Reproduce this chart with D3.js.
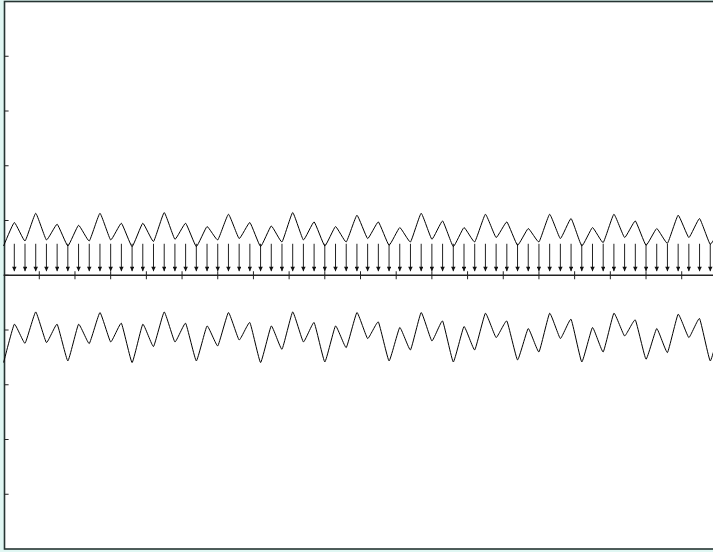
<!DOCTYPE html>
<html><head><meta charset="utf-8">
<script src="https://cdn.jsdelivr.net/npm/d3@7"></script>
<style>html,body{margin:0;padding:0;background:#e0f7f3;overflow:hidden}</style>
</head><body>
<svg id="c" width="713" height="552"></svg>
<script>
// sample index k -> x = k*0.3
const step = 0.3;
const upperValues = [0.535,0.963,0.626,1.132,0.645,0.932,0.535,0.913,0.626,1.132,0.645,0.950,0.524,0.950,0.616,1.145,0.658,0.950,0.524,0.889,0.645,1.114,0.670,0.963,0.524,0.900,0.608,1.145,0.645,0.974,0.535,0.889,0.608,1.096,0.670,0.974,0.548,0.871,0.608,1.132,0.658,0.992,0.524,0.871,0.608,1.114,0.689,0.974,0.548,0.853,0.608,1.114,0.670,1.036,0.535,0.871,0.597,1.114,0.689,0.992,0.548,0.853,0.584,1.096,0.689,1.036,0.566,0.877];
const lowerValues = [-1.595,-0.895,-1.242,-0.670,-1.229,-0.895,-1.565,-0.895,-1.247,-0.681,-1.218,-0.877,-1.595,-0.895,-1.302,-0.670,-1.218,-0.877,-1.565,-0.926,-1.291,-0.681,-1.182,-0.864,-1.595,-0.926,-1.352,-0.670,-1.218,-0.864,-1.584,-0.926,-1.321,-0.681,-1.156,-0.853,-1.565,-0.955,-1.364,-0.681,-1.200,-0.835,-1.584,-0.937,-1.364,-0.694,-1.138,-0.835,-1.547,-0.974,-1.401,-0.694,-1.156,-0.804,-1.584,-0.955,-1.401,-0.694,-1.109,-0.816,-1.534,-0.974,-1.412,-0.712,-1.138,-0.791,-1.565,-0.895];
const arrowTop = 0.575, arrowBottom = 0.075;
const arrowCount = 66;
const xTicks = d3.range(1, 20);
const yTicks = d3.range(-4, 5);

const svg = d3.select('#c');
const x = d3.scaleLinear().domain([0, 20]).range([3.6, 717.4]);
const y = d3.scaleLinear().domain([-5, 5]).range([549, 1.5]);

svg.append('defs').append('marker')
  .attr('id','ah').attr('viewBox','0 0 10 10').attr('refX',10).attr('refY',5)
  .attr('markerUnits','userSpaceOnUse').attr('markerWidth',7).attr('markerHeight',4.5)
  .attr('orient','auto')
  .append('path').attr('d','M0,0 L10,5 L0,10 z').attr('fill','#111');

svg.append('rect').attr('x', x(0)+0.9).attr('y', y(5)).attr('width', 720).attr('height', y(-5)-y(5))
  .attr('fill','#fff').attr('stroke','#263533').attr('stroke-width',1.6);

// y ticks
svg.append('g').selectAll('line').data(yTicks).join('line')
  .attr('x1', x(0)+0.9).attr('x2', x(0)+5).attr('y1', d=>y(d)).attr('y2', d=>y(d))
  .attr('stroke','#222').attr('stroke-width',1);

// x axis
svg.append('line').attr('x1', x(0)).attr('x2', 713).attr('y1', y(0)).attr('y2', y(0))
  .attr('stroke','#222').attr('stroke-width',1.3);
svg.append('g').selectAll('line').data(xTicks).join('line')
  .attr('x1', d=>x(d)).attr('x2', d=>x(d)).attr('y1', y(0)-4).attr('y2', y(0)+4)
  .attr('stroke','#222').attr('stroke-width',1);

// arrows
svg.append('g').selectAll('line').data(d3.range(1, arrowCount+1)).join('line')
  .attr('x1', k=>x(k*step)).attr('x2', k=>x(k*step))
  .attr('y1', y(arrowTop)).attr('y2', y(arrowBottom))
  .attr('stroke','#222').attr('stroke-width',1).attr('marker-end','url(#ah)');

const line = d3.line().x((d,i)=>x(i*step)).y(d=>y(d)).curve(d3.curveCardinal.tension(0.65));
svg.append('path').datum(upperValues).attr('d', line).attr('fill','none').attr('stroke','#000').attr('stroke-width',1);
svg.append('path').datum(lowerValues).attr('d', line).attr('fill','none').attr('stroke','#000').attr('stroke-width',1);
</script>
</body></html>
